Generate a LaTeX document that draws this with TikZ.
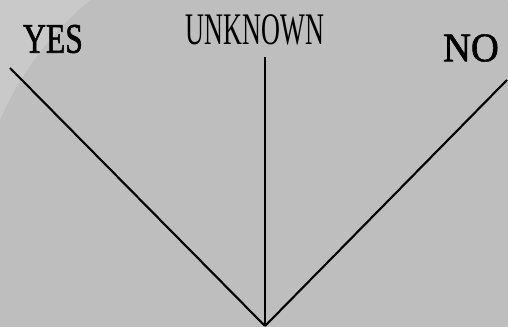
\documentclass[tikz,border=0pt]{standalone}
\usepackage{fontspec}
\setmainfont{Liberation Serif}
\newfontfamily\heavyserif[FakeBold=1.5]{Liberation Serif}
\usetikzlibrary{positioning}
\definecolor{slate}{RGB}{190,190,190}
\definecolor{glare}{RGB}{201,201,201}
\definecolor{ink}{RGB}{0,0,0}
\tikzset{
  answer/.style={text=ink,inner sep=0pt,font=\fontsize{#1}{#1}\selectfont},
  answer/.default=24pt,
  heavy answer/.style={text=ink,inner sep=0pt,font=\heavyserif\fontsize{#1}{#1}\selectfont},
  heavy answer/.default=24pt,
  stroke/.style={draw=ink,line width=1.2pt},
}
\begin{document}
\begin{tikzpicture}[x=0.02cm,y=-0.02cm]
    % backdrop with a soft glare in the corner
    \useasboundingbox (0,0) rectangle (508,327);
    \fill[glare] (0,0) rectangle (508,327);
    \begin{scope}
      \clip (0,0) rectangle (508,327);
      \fill[slate] (298,250) circle[radius=325];
    \end{scope}
    \node[heavy answer=24pt,xscale=0.75] (yes) at (53,39) {YES};
    \node[answer=25.7pt,xscale=0.58] (unk) at (255,30) {UNKNOWN};
    \node[heavy answer=23.1pt,xscale=0.95] (no) at (471,48) {NO};
    \coordinate (root) at (265,326);
    \coordinate (yesend) at (10,68);
    \coordinate (unkend) at (265,57);
    \coordinate (noend) at (507,80);
    \draw[stroke] (root) -- (yesend);
    \draw[stroke] (root) -- (unkend);
    \draw[stroke] (root) -- (noend);
\end{tikzpicture}
\end{document}
